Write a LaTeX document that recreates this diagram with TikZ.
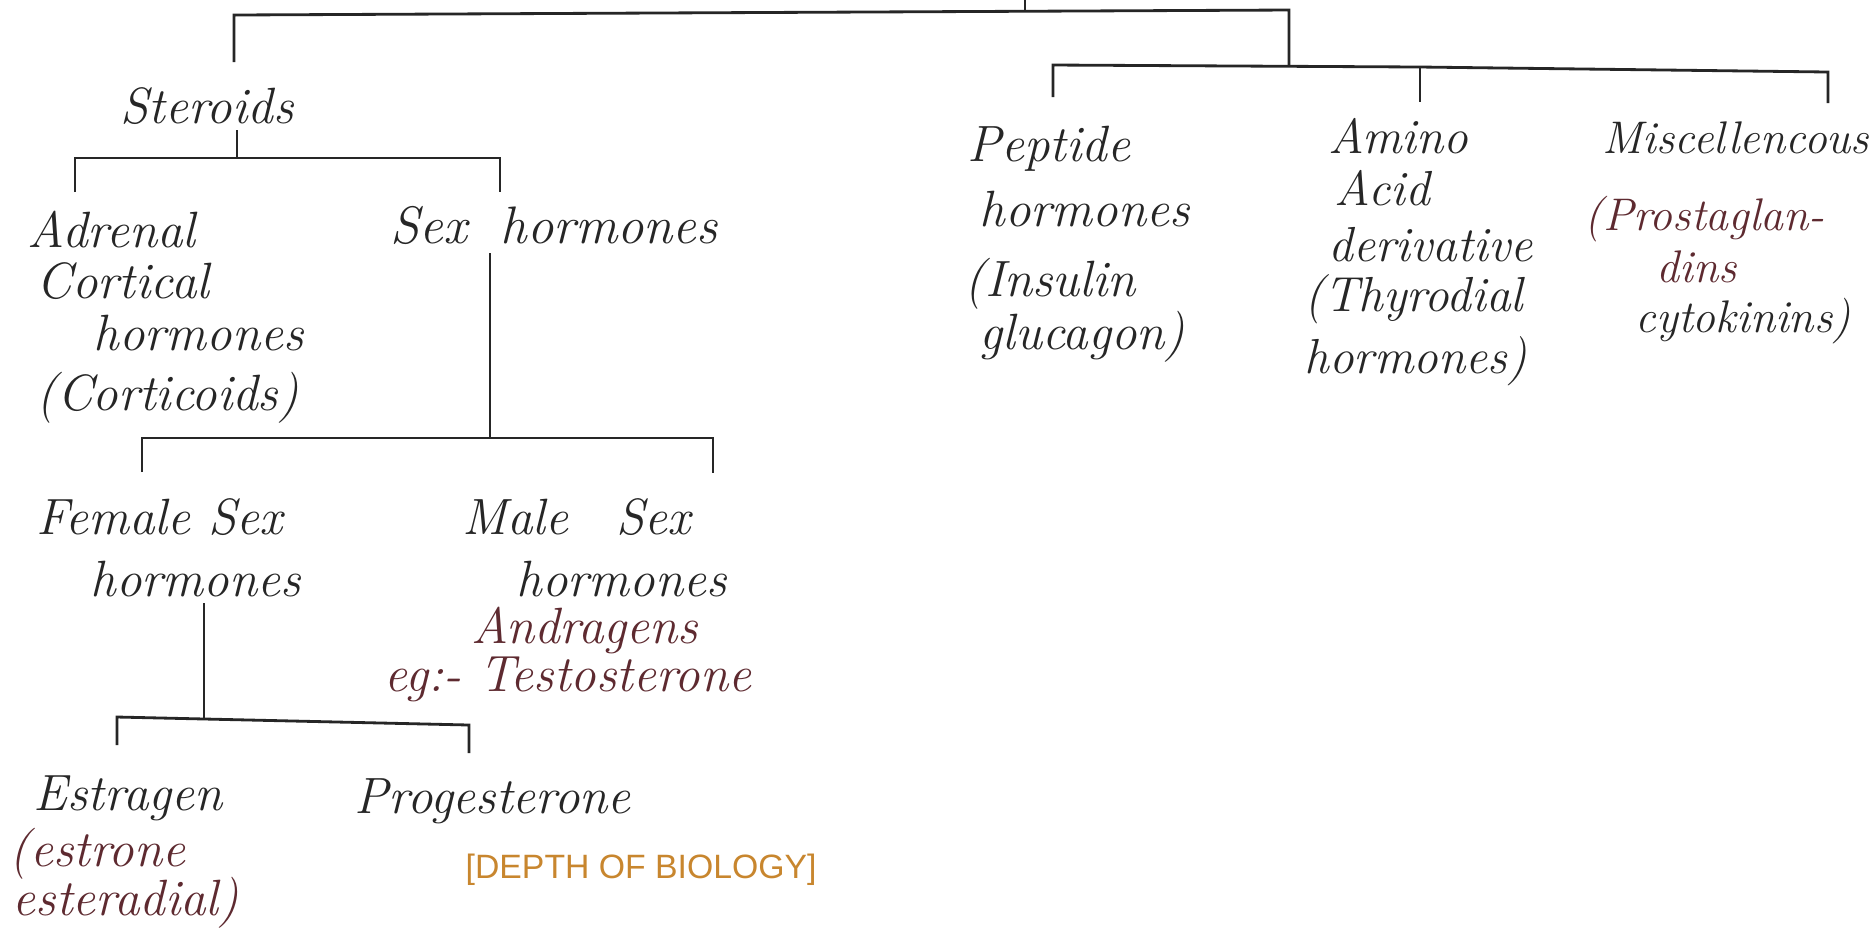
\documentclass[tikz,border=0pt]{standalone}
\usepackage{fontspec}
\newfontfamily\wmfont{Liberation Sans}
\definecolor{ink}{HTML}{262626}
\definecolor{redink}{HTML}{5E2A30}
\definecolor{orangeink}{HTML}{C8862E}
\begin{document}
\begin{tikzpicture}[x=0.01cm,y=-0.01cm,
  hw/.style={font=\fontsize{14.5}{15}\selectfont\itshape, align=left, inner sep=0pt, anchor=north west, text=ink},
  hwsmall/.style={hw, font=\fontsize{13}{15}\selectfont\itshape},
  hwmid/.style={hw, font=\fontsize{14}{15}\selectfont\itshape},
  hwone/.style={font=\fontsize{14.5}{15}\selectfont\itshape, inner sep=0pt, anchor=base west, text=ink},
  conn/.style={draw=ink, line width=0.8pt},
  wm/.style={font=\wmfont\fontsize{9.6}{11}\selectfont, inner sep=0pt, anchor=west, text=orangeink}]
\useasboundingbox[fill=white] (0,0) rectangle (1875,938);

% ---- nodes ----
\node[hwone] (ster) at (120,123) {Steroids};
\node[hw] (adren) at (27,210) {Adrenal\\[-0.5pt]\hspace*{0.09cm}Cortical\\\hspace*{0.66cm}hormones\\[2pt]\hspace*{0.09cm}(Corticoids)};
\node[hwone, font=\fontsize{15}{15}\selectfont\itshape] (sexh) at (390,243) {Sex\hspace{0.15cm} hormones};
\node[hw] (fem) at (36,498) {Female Sex\\[2.5pt]\hspace*{0.54cm}hormones};
\node[hw] (male) at (384,498) {\hspace*{0.78cm}Male\hspace{0.3cm} Sex\\[2.5pt]\hspace*{1.32cm}hormones\\[-1.5pt]\hspace*{0.87cm}{\color{redink}Andragens}\\[-1.5pt]{\color{redink}eg:- Testosterone}};
\node[hw] (estr) at (9,775) {\hspace*{0.24cm}Estragen\\[1pt]{\color{redink}(estrone}\\[-1pt]\hspace*{0.03cm}{\color{redink}esteradial)}};
\node[hwone] (prog) at (354,813) {Progesterone};
\node[wm] (depth) at (465,870) {[DEPTH OF BIOLOGY]};

\node[hw] (pep) at (964,125) {\hspace*{0.03cm}Peptide\\[3.7pt]\hspace*{0.15cm}hormones\\[4.8pt](Insulin\\\hspace*{0.15cm}glucagon)};
\node[hwmid] (amino) at (1304,118) {\hspace*{0.24cm}Amino\\[-0.3pt]\hspace*{0.30cm}Acid\\[1pt]\hspace*{0.24cm}derivative\\[-1pt](Thyrodial\\[2.8pt]hormones)};
\node[hwsmall] (misc) at (1584,121) {\hspace*{0.18cm}Miscellencous\\[6.8pt]{\color{redink}(Prostaglan-}\\\hspace*{0.72cm}{\color{redink}dins}\\[-1pt]\hspace*{0.51cm}cytokinins)};

% ---- junction coordinates ----
\coordinate (rootIn) at (1025,0);
\coordinate (rootBar) at (1025,12);
\coordinate (topL) at (234,15);
\coordinate (topR) at (1289,10);
\coordinate (sterIn) at (234,62);
\coordinate (rightIn) at (1289,66);
\coordinate (rbL) at (1053,65);
\coordinate (rbM) at (1420,67);
\coordinate (rbR) at (1828,72);
\coordinate (pepIn) at (1053,97);
\coordinate (aminoIn) at (1420,102);
\coordinate (miscIn) at (1828,103);

\coordinate (sterOut) at (237,130);
\coordinate (sterBar) at (237,158);
\coordinate (sbL) at (75,158);
\coordinate (sbR) at (500,158);
\coordinate (adrenIn) at (75,192);
\coordinate (sexIn) at (500,192);

\coordinate (sexOut) at (490,253);
\coordinate (sexBar) at (490,438);
\coordinate (xbL) at (142,438);
\coordinate (xbR) at (713,438);
\coordinate (femIn) at (142,472);
\coordinate (maleIn) at (713,473);

\coordinate (femOut) at (204,603);
\coordinate (femBar) at (204,720);
\coordinate (fbL) at (117,717);
\coordinate (fbR) at (469,725);
\coordinate (estrIn) at (117,745);
\coordinate (progIn) at (469,753);

% ---- connectors ----
\draw[conn] (rootIn) -- (rootBar);
\draw[conn] (sterIn) -- (topL) -- (topR) -- (rightIn);
\draw[conn] (pepIn) -- (rbL) -- (rbM) -- (rbR) -- (miscIn);
\draw[conn] (rbM) -- (aminoIn);

\draw[conn] (sterOut) -- (sterBar);
\draw[conn] (adrenIn) -- (sbL) -- (sbR) -- (sexIn);

\draw[conn] (sexOut) -- (sexBar);
\draw[conn] (femIn) -- (xbL) -- (xbR) -- (maleIn);

\draw[conn] (femOut) -- (femBar);
\draw[conn] (estrIn) -- (fbL) -- (fbR) -- (progIn);
\end{tikzpicture}
\end{document}
